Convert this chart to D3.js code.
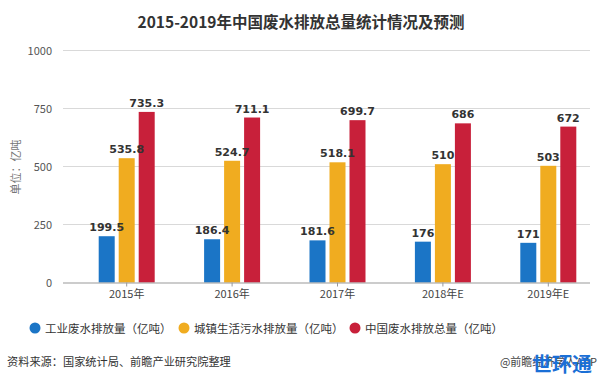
<!DOCTYPE html>
<html><head><meta charset="utf-8">
<script src="https://cdn.jsdelivr.net/npm/d3@7"></script>
<style>body{margin:0;background:#fff}svg{display:block}</style>
</head><body><svg id="c" width="602" height="383"></svg>
<script>
const categories = ["2015年","2016年","2017年","2018年E","2019年E"];
const industrial = [199.5,186.4,181.6,176,171];
const urban = [535.8,524.7,518.1,510,503];
const total = [735.3,711.1,699.7,686,672];
const seriesNames = ["工业废水排放量（亿吨）","城镇生活污水排放量（亿吨）","中国废水排放总量（亿吨）"];
const yTicks = [0,250,500,750,1000];
const colors = ["#1b75c6","#f0ac20","#c8203a"];
const series = [industrial, urban, total];

const svg = d3.select("#c");
const FONT = "'Noto Sans CJK SC','Noto Sans',sans-serif";
const x = d3.scaleBand().domain(categories).range([74,601]).paddingInner(0).paddingOuter(0);
const y = d3.scaleLinear().domain([0,1000]).range([282.5,50.5]);
const sub = d3.scaleBand().domain([0,1,2]).range([0,56]).paddingInner(0.2);

svg.append("text").attr("x",301).attr("y",28).attr("text-anchor","middle")
  .attr("font-family",FONT).attr("font-weight","bold").attr("font-size",15.5).attr("fill","#333")
  .text("2015-2019年中国废水排放总量统计情况及预测");

// grid
svg.append("g").selectAll("line").data(yTicks.filter(d=>d>0)).join("line")
  .attr("x1",63).attr("x2",590).attr("y1",d=>y(d)).attr("y2",d=>y(d))
  .attr("stroke","#d9d9d9").attr("stroke-width",1);

// y axis labels
const yAxis = svg.append("g").attr("transform","translate(52,0)")
  .call(d3.axisLeft(y).tickValues(yTicks).tickFormat(d3.format("d")).tickSize(0).tickPadding(0));
yAxis.select(".domain").remove();
yAxis.selectAll("text").attr("font-family",FONT).attr("font-size",11).attr("fill","#555");

svg.append("text").attr("transform","translate(20,167) rotate(-90)").attr("text-anchor","middle")
  .attr("font-family",FONT).attr("font-size",11).attr("fill","#777").text("单位：亿吨");

// bars
const groups = svg.append("g").selectAll("g").data(categories).join("g")
  .attr("transform",d=>`translate(${x(d)+x.bandwidth()/2-28},0)`);
series.forEach((vals,si)=>{
  groups.append("rect")
    .attr("x",sub(si)).attr("width",sub.bandwidth())
    .attr("y",(d,i)=>y(vals[i])).attr("height",(d,i)=>y(0)-y(vals[i]))
    .attr("fill",colors[si]);
});
series.forEach((vals,si)=>{
  groups.append("text")
    .attr("x",sub(si)+sub.bandwidth()/2).attr("y",(d,i)=>y(vals[i])-5)
    .attr("text-anchor","middle").attr("font-family","'DejaVu Sans',sans-serif")
    .attr("font-weight","bold").attr("font-size",11).attr("fill","#333")
    .text((d,i)=>vals[i]);
});

// x axis
const xAxis = svg.append("g").attr("transform",`translate(0,${y(0)})`)
  .call(d3.axisBottom(x).tickSize(4).tickPadding(4).tickSizeOuter(0));
xAxis.select(".domain").attr("d","M63,0.5H590").attr("stroke","#999");
xAxis.selectAll(".tick line").attr("stroke","#999");
xAxis.selectAll("text").attr("font-family",FONT).attr("font-size",11).attr("fill","#444");

// legend
const legX = [35,184,355];
const leg = svg.append("g").selectAll("g").data(seriesNames).join("g")
  .attr("transform",(d,i)=>`translate(${legX[i]},328)`);
leg.append("circle").attr("r",5.5).attr("fill",(d,i)=>colors[i]);
leg.append("text").attr("x",10).attr("y",4.5).attr("font-family",FONT).attr("font-size",11.5)
  .attr("fill","#333").text(d=>d);

// footer
svg.append("text").attr("x",7).attr("y",366).attr("font-family",FONT).attr("font-size",11.2)
  .attr("fill","#333").text("资料来源：国家统计局、前瞻产业研究院整理");
svg.append("text").attr("x",597).attr("y",366).attr("text-anchor","end").attr("font-family",FONT)
  .attr("font-size",11).attr("fill","#444").text("@前瞻经济学人APP");
svg.append("text").attr("x",532).attr("y",372).attr("font-family",FONT).attr("font-weight","bold")
  .attr("font-size",20).attr("fill","#1a6fd6").text("世环通");
</script></body></html>
